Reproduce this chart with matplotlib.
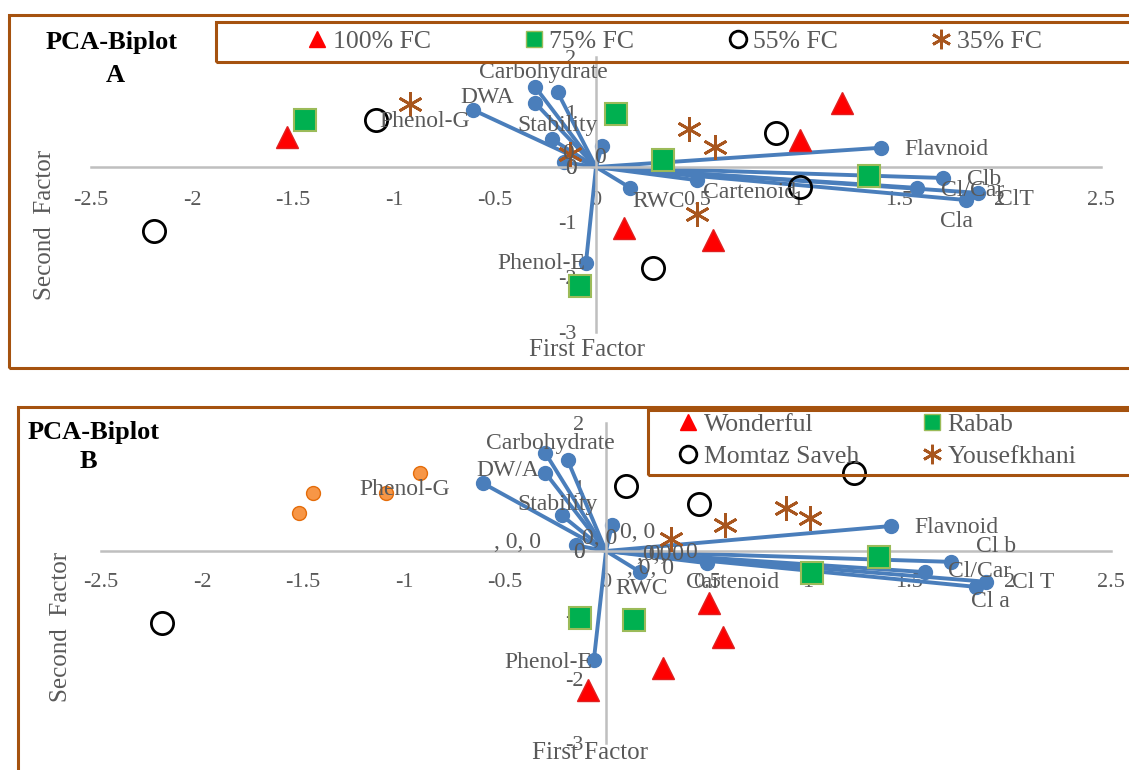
import matplotlib
matplotlib.use("Agg")
import matplotlib.pyplot as plt
from matplotlib.patches import Rectangle
from matplotlib.lines import Line2D

plt.rcParams['font.family'] = ['Liberation Serif', 'DejaVu Serif']

# ---------------- panel A data ----------------
a_100_x = [-1.53, 1.22, 1.01, 0.14, 0.58]
a_100_y = [0.55, 1.16, 0.49, -1.11, -1.33]
a_75_x = [-1.44, 0.10, 0.33, 1.35, -0.08]
a_75_y = [0.85, 0.96, 0.13, -0.16, -2.16]
a_55_x = [-2.19, -1.09, 0.89, 1.01, 0.28]
a_55_y = [-1.16, 0.85, 0.62, -0.36, -1.84]
a_35_x = [-0.92, -0.13, 0.46, 0.59, 0.50]
a_35_y = [1.15, 0.24, 0.69, 0.36, -0.85]

a_vec_names = ['Carbohydrate', '', 'DWA', 'Phenol-G', 'Stability', '0', '0', 'RWC',
               'Phenol-E', 'Flavnoid', 'Clb', 'Cl/Car', 'ClT', 'Cla', 'Cartenoid']
a_vec_x = [-0.30, -0.19, -0.30, -0.61, -0.22, 0.03, -0.16, 0.17, -0.05,
           1.41, 1.72, 1.59, 1.89, 1.83, 0.50]
a_vec_y = [1.45, 1.36, 1.16, 1.04, 0.51, 0.38, 0.09, -0.38, -1.75,
           0.35, -0.20, -0.38, -0.47, -0.60, -0.24]
a_legend = ['100% FC', '75% FC', '55% FC', '35% FC']

# ---------------- panel B data ----------------
b_won_x = [0.51, 0.58, 0.28, -0.09]
b_won_y = [-0.81, -1.34, -1.83, -2.17]
b_rab_x = [-0.13, 0.14, 1.02, 1.35]
b_rab_y = [-1.05, -1.08, -0.34, -0.09]
b_mom_x = [-2.20, 0.10, 0.46, 1.23]
b_mom_y = [-1.13, 1.02, 0.73, 1.22]
b_you_x = [0.59, 0.89, 1.01, 0.32]
b_you_y = [0.41, 0.67, 0.52, 0.19]
b_or_x = [-0.92, -1.45, -1.52, -1.09]
b_or_y = [1.22, 0.91, 0.59, 0.91]

b_vec_names = ['Carbohydrate', '', 'DW/A', 'Phenol-G', 'Stability', '0, 0', '0', 'RWC',
               'Phenol-E', 'Flavnoid', 'Cl b', 'Cl/Car', 'Cl T', 'Cl a', 'Cartenoid']
b_vec_x = [-0.30, -0.19, -0.30, -0.61, -0.22, 0.03, -0.15, 0.17, -0.06,
           1.41, 1.71, 1.58, 1.88, 1.83, 0.50]
b_vec_y = [1.53, 1.42, 1.22, 1.06, 0.56, 0.41, 0.09, -0.33, -1.70,
           0.39, -0.17, -0.33, -0.48, -0.56, -0.19]
b_legend = ['Wonderful', 'Momtaz Saveh', 'Rabab', 'Yousefkhani']

xticks = [-2.5, -2, -1.5, -1, -0.5, 0, 0.5, 1, 1.5, 2, 2.5]
xtick_labels = ['-2.5', '-2', '-1.5', '-1', '-0.5', '0', '0.5', '1', '1.5', '2', '2.5']
yticks = [-3, -2, -1, 0, 1, 2]
ytick_labels = ['-3', '-2', '-1', '0', '1', '2']

# label offsets in pixels (dx right, dy up) from each vector end
a_lab_off = [(8, 15), (0, 0), (-48, 6), (-48, -12), (6, 13), (-2, -11), (7, -6), (28, -14),
             (-45, 0), (66, -2), (41, -2), (55, -3), (38, -7), (-9, -22), (53, -12)]
b_lab_off = [(5, 10), (0, 0), (-38, 2), (-78, -6), (-4, 11), (26, -8), (3, -7), (1, -16),
             (-46, -3), (66, -1), (45, 15), (54, 1), (47, -1), (15, -15), (26, -19)]
a_extra = [(-0.14, 0.25, '0')]
b_extra = [(-0.44, 0.13, ', 0, 0'), (-0.03, 0.20, '0, 0'), (0.25, -0.06, '0,0'),
           (0.22, -0.27, ', 0, 0'), (0.42, -0.03, '0'), (0.27, -0.05, ', 0, 0')]

BROWN = '#A5520F'
BLUE = '#4A7EBB'
GREEN = '#00B050'
GEDGE = '#9BBB59'
STAR = '#A8561E'
GRAY = '#595959'
STAR_M = (6, 2, 0)

W, H = 1129, 770


def fx(px):
    return px / W


def fy(py):
    return 1 - py / H


fig = plt.figure(figsize=(W / 100, H / 100), dpi=100)


def setup(ax, pad_x, pad_y):
    ax.set_xlim(-2.5, 2.5)
    ax.set_ylim(-3, 2)
    for s in ['top', 'right']:
        ax.spines[s].set_visible(False)
    for s in ['left', 'bottom']:
        ax.spines[s].set_position(('data', 0))
        ax.spines[s].set_color('#BFBFBF')
        ax.spines[s].set_linewidth(1.8)
    ax.set_xticks(xticks)
    ax.set_xticklabels(xtick_labels)
    ax.set_yticks(yticks)
    ax.set_yticklabels(ytick_labels)
    ax.tick_params(axis='x', length=0, pad=pad_x, labelsize=16, labelcolor=GRAY)
    ax.tick_params(axis='y', length=0, pad=pad_y, labelsize=16, labelcolor=GRAY)
    ax.patch.set_alpha(0)


def vectors(ax, xs, ys, names, offs):
    for x, y, n, (dx, dy) in zip(xs, ys, names, offs):
        ax.plot([0, x], [0, y], color=BLUE, lw=2.8, zorder=2,
                marker='o', markevery=[1], ms=10, solid_capstyle='round')
        if n:
            ax.annotate(n, (x, y), xytext=(dx * 0.72, dy * 0.72), textcoords='offset points',
                        ha='center', va='center', fontsize=17, color=GRAY, zorder=5)


def tri(ax, x, y):
    ax.plot(x, y, ls='none', marker='^', ms=16, color='#FF0000', mec='#E02020', zorder=4)


def sq(ax, x, y):
    ax.plot(x, y, ls='none', marker='s', ms=16, color=GREEN, mec=GEDGE, mew=1.5, zorder=4)


def circ(ax, x, y):
    ax.plot(x, y, ls='none', marker='o', ms=16, mfc='none', mec='black', mew=2, zorder=4)


def star(ax, x, y):
    ax.plot(x, y, ls='none', marker=STAR_M, ms=18, color=STAR, mew=2, zorder=4)


# ---------------- panel A ----------------
fig.patches.append(Rectangle((fx(9), fy(368)), 2, (368 - 15) / H, transform=fig.transFigure,
                             fill=False, ec=BROWN, lw=2.2, zorder=0))
axA = fig.add_axes([fx(91), fy(332), 1010 / W, 275 / H])
setup(axA, 17, 14)
vectors(axA, a_vec_x, a_vec_y, a_vec_names, a_lab_off)
for x, y, t in a_extra:
    axA.text(x, y, t, fontsize=17, color=GRAY, ha='center', va='center', zorder=5)
tri(axA, a_100_x, a_100_y)
sq(axA, a_75_x, a_75_y)
circ(axA, a_55_x, a_55_y)
star(axA, a_35_x, a_35_y)

fig.patches.append(Rectangle((fx(216), fy(62)), 2, 40 / H, transform=fig.transFigure,
                             fill=False, ec=BROWN, lw=2.2, zorder=1))
hA = [Line2D([], [], ls='none', marker='^', ms=12, color='#FF0000'),
      Line2D([], [], ls='none', marker='s', ms=12, color=GREEN, mec=GEDGE),
      Line2D([], [], ls='none', marker='o', ms=12, mfc='none', mec='black', mew=2),
      Line2D([], [], ls='none', marker=STAR_M, ms=14, color=STAR, mew=2)]
fig.legend(hA, a_legend, loc='center left', bbox_to_anchor=(fx(307), fy(42)), ncol=4,
           frameon=False, fontsize=18.5, labelcolor=GRAY, handlelength=0.8,
           handletextpad=0.2, columnspacing=3.62, borderpad=0, borderaxespad=0)

fig.text(fx(112), fy(43), 'PCA-Biplot', fontsize=19, fontweight='bold', ha='center', va='center')
fig.text(fx(115), fy(76), 'A', fontsize=19, fontweight='bold', ha='center', va='center')
fig.text(fx(45), fy(225), 'Second  Factor', fontsize=18, color=GRAY, rotation=90,
         ha='center', va='center')
fig.text(fx(587), fy(350), 'First Factor', fontsize=18, color=GRAY, ha='center', va='center')

# ---------------- panel B ----------------
fig.patches.append(Rectangle((fx(18), fy(900)), 2, (900 - 407) / H, transform=fig.transFigure,
                             fill=False, ec=BROWN, lw=2.2, zorder=0))
axB = fig.add_axes([fx(101), fy(743), 1010 / W, 320 / H])
setup(axB, 16, 16)
vectors(axB, b_vec_x, b_vec_y, b_vec_names, b_lab_off)
for x, y, t in b_extra:
    axB.text(x, y, t, fontsize=17, color=GRAY, ha='center', va='center', zorder=5)
axB.plot(b_or_x, b_or_y, ls='none', marker='o', ms=10, color='#F79646', mec='#E46C0A', zorder=4)
tri(axB, b_won_x, b_won_y)
sq(axB, b_rab_x, b_rab_y)
circ(axB, b_mom_x, b_mom_y)
star(axB, b_you_x, b_you_y)

fig.patches.append(Rectangle((fx(648), fy(475)), 2, 65 / H, transform=fig.transFigure,
                             fill=False, ec=BROWN, lw=2.2, zorder=1))
hB = [hA[0], hA[2], hA[1], hA[3]]
fig.legend(hB, b_legend, loc='upper left', bbox_to_anchor=(fx(678), fy(413)), ncol=2,
           frameon=False, fontsize=18.5, labelcolor=GRAY, handlelength=0.8,
           handletextpad=0.2, columnspacing=2.45, labelspacing=0.37,
           borderpad=0, borderaxespad=0)

fig.text(fx(94), fy(432), 'PCA-Biplot', fontsize=19, fontweight='bold', ha='center', va='center')
fig.text(fx(88), fy(462), 'B', fontsize=19, fontweight='bold', ha='center', va='center')
fig.text(fx(61), fy(627), 'Second  Factor', fontsize=18, color=GRAY, rotation=90,
         ha='center', va='center')
fig.text(fx(590), fy(753), 'First Factor', fontsize=18, color=GRAY, ha='center', va='center')

fig.savefig('out.png', dpi=100)
